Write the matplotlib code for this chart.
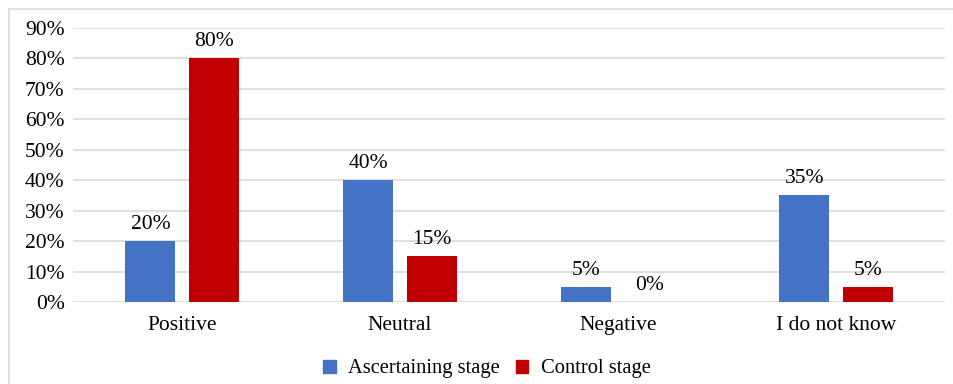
import matplotlib.pyplot as plt
import matplotlib.patches as mpatches
import numpy as np

# Data
categories = ["Positive", "Neutral", "Negative", "I do not know"]
ascertaining = [20, 40, 5, 35]
control = [80, 15, 0, 5]
series_names = ["Ascertaining stage", "Control stage"]

plt.rcParams['font.family'] = ['Liberation Serif', 'DejaVu Serif']

blue = "#4472C4"
red = "#C00000"
fs = 15.5

fig = plt.figure(figsize=(9.54, 3.84), dpi=100)
ax = fig.add_axes([73 / 954, 1 - 302 / 384, 872 / 954, 274 / 384])

x = np.arange(len(categories))
w = 0.23
off = 0.145
b1 = ax.bar(x - off, ascertaining, w, color=blue, label=series_names[0], zorder=3)
b2 = ax.bar(x + off, control, w, color=red, label=series_names[1], zorder=3)

for bars, vals in ((b1, ascertaining), (b2, control)):
    for bar, v in zip(bars, vals):
        ax.text(bar.get_x() + bar.get_width() / 2, v + 2.3, f"{v}%",
                ha="center", va="bottom", fontsize=fs)

ax.set_xlim(-0.5, 3.5)
ax.set_ylim(0, 90)
ax.set_yticks(range(0, 91, 10))
ax.set_yticklabels([f"{t}%" for t in range(0, 91, 10)], fontsize=fs)
ax.set_xticks(x)
ax.set_xticklabels(categories, fontsize=fs)
ax.tick_params(axis="y", length=0, pad=6)
ax.tick_params(axis="x", length=0, pad=10)
ax.grid(axis="y", color="#d9d9d9", linewidth=1.2, zorder=0)
for s in ax.spines.values():
    s.set_visible(False)

# outer chart border
fig.patches.append(mpatches.Rectangle((9 / 954, -0.1), 1.2, 1 - 9 / 384 + 0.1,
                                      transform=fig.transFigure, fill=False,
                                      edgecolor="#d9d9d9", linewidth=1.2))

handles = [mpatches.Patch(color=blue), mpatches.Patch(color=red)]
fig.legend(handles, series_names, loc="center", bbox_to_anchor=(487 / 954, 1 - 369 / 384),
           ncol=2, frameon=False, fontsize=14.8, handlelength=0.6, handleheight=0.6,
           handletextpad=0.6, columnspacing=0.8)

fig.savefig("out.png", dpi=100)
